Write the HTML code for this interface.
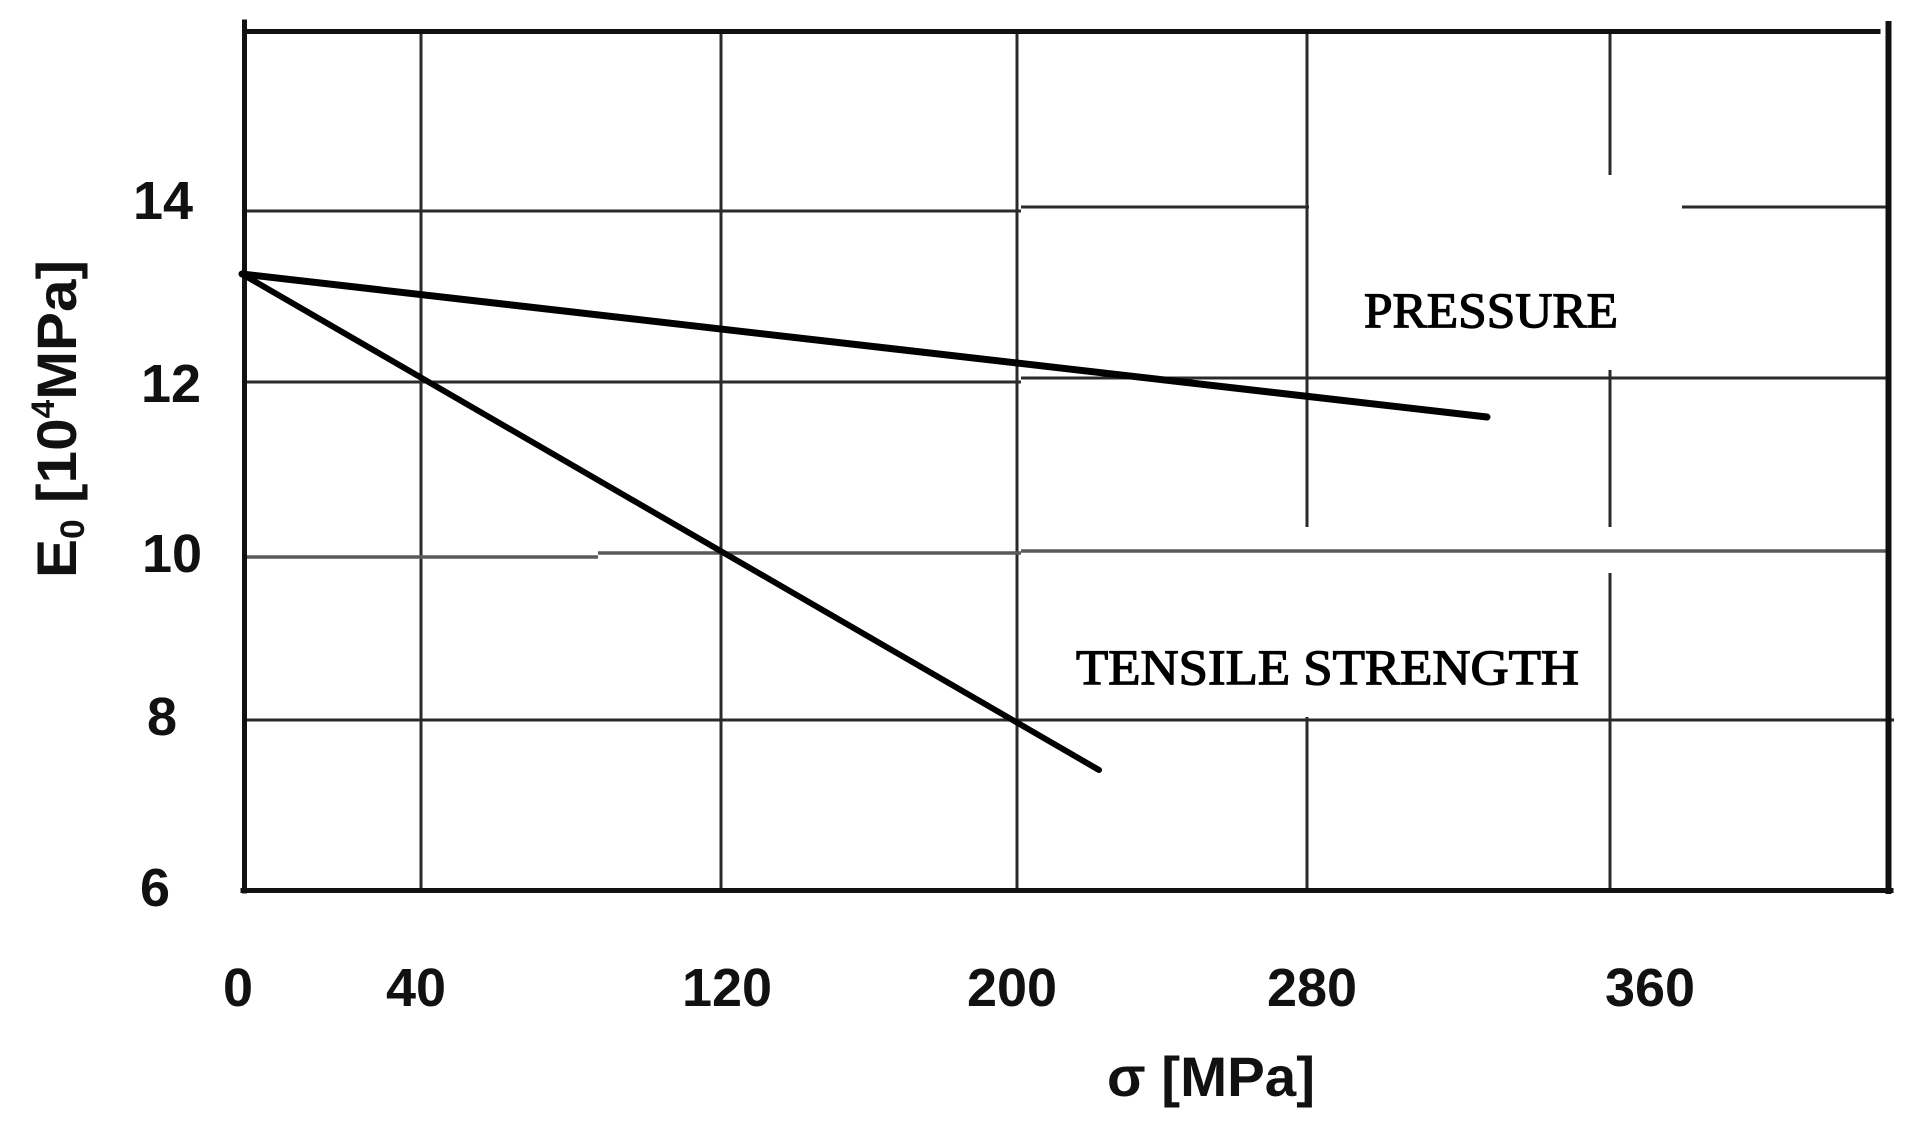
<!DOCTYPE html>
<html>
<head>
<meta charset="utf-8">
<style>
  html, body { margin: 0; padding: 0; background: #ffffff; }
  body { width: 1917px; height: 1122px; overflow: hidden; }
  svg { display: block; }
  .tick { font-family: "Liberation Sans", sans-serif; font-weight: bold; font-size: 54px; fill: #111; }
  .axl { font-family: "Liberation Sans", sans-serif; font-weight: bold; font-size: 56px; fill: #111; }
  .ann { font-family: "Liberation Serif", serif; font-size: 50px; fill: #000; stroke: #000; stroke-width: 1.3px; }
</style>
</head>
<body>
<svg width="1917" height="1122" viewBox="0 0 1917 1122" xmlns="http://www.w3.org/2000/svg">
  <rect x="0" y="0" width="1917" height="1122" fill="#ffffff"/>

  <!-- vertical grid lines -->
  <g stroke="#2a2a2a" stroke-width="3" fill="none">
    <line x1="421" y1="31" x2="421" y2="890"/>
    <line x1="721" y1="31" x2="721" y2="890"/>
    <line x1="1017" y1="31" x2="1017" y2="890"/>
    <line x1="1307" y1="31" x2="1307" y2="527"/>
    <line x1="1307" y1="717" x2="1307" y2="890"/>
    <line x1="1610" y1="31" x2="1610" y2="175"/>
    <line x1="1610" y1="370" x2="1610" y2="527"/>
    <line x1="1610" y1="573" x2="1610" y2="890"/>
  </g>

  <!-- horizontal grid lines -->
  <g stroke="#2a2a2a" stroke-width="3" fill="none">
    <!-- 14 -->
    <line x1="245" y1="211" x2="1021" y2="211"/>
    <line x1="1021" y1="207" x2="1309" y2="207"/>
    <line x1="1682" y1="207" x2="1888" y2="207"/>
    <!-- 12 -->
    <line x1="245" y1="382" x2="1021" y2="382"/>
    <line x1="1021" y1="378" x2="1888" y2="378"/>
    <!-- 8 -->
    <line x1="245" y1="720" x2="1894" y2="720"/>
  </g>
  <!-- 10 (grayer, slightly stepped) -->
  <g stroke="#5a5a5a" stroke-width="3.5" fill="none">
    <line x1="245" y1="557" x2="598" y2="557"/>
    <line x1="598" y1="553" x2="1021" y2="553"/>
    <line x1="1021" y1="551" x2="1676" y2="551"/>
    <line x1="1676" y1="551" x2="1888" y2="551"/>
  </g>

  <!-- axes frame -->
  <g stroke="#111" fill="none" stroke-linecap="square">
    <line x1="244.5" y1="22" x2="244.5" y2="891" stroke-width="5"/>
    <line x1="245" y1="31.5" x2="1878" y2="31.5" stroke-width="5"/>
    <line x1="1888.5" y1="24" x2="1888.5" y2="891" stroke-width="6"/>
    <line x1="243" y1="890.5" x2="1891" y2="890.5" stroke-width="5"/>
  </g>

  <!-- data lines -->
  <g stroke="#000" fill="none" stroke-linecap="round">
    <line x1="242" y1="274" x2="1487" y2="417" stroke-width="7"/>
    <line x1="242" y1="274" x2="1099" y2="770" stroke-width="6"/>
  </g>

  <!-- annotations -->
  <text class="ann" x="1364" y="327" textLength="254" lengthAdjust="spacingAndGlyphs">PRESSURE</text>
  <text class="ann" x="1076" y="684" textLength="503" lengthAdjust="spacingAndGlyphs">TENSILE STRENGTH</text>

  <!-- y tick labels -->
  <text class="tick" x="163" y="219" text-anchor="middle">14</text>
  <text class="tick" x="171" y="402" text-anchor="middle">12</text>
  <text class="tick" x="172" y="572" text-anchor="middle">10</text>
  <text class="tick" x="162" y="735" text-anchor="middle">8</text>
  <text class="tick" x="155" y="906" text-anchor="middle">6</text>

  <!-- x tick labels -->
  <text class="tick" x="238" y="1006" text-anchor="middle">0</text>
  <text class="tick" x="416" y="1006" text-anchor="middle">40</text>
  <text class="tick" x="727" y="1006" text-anchor="middle">120</text>
  <text class="tick" x="1012" y="1006" text-anchor="middle">200</text>
  <text class="tick" x="1312" y="1006" text-anchor="middle">280</text>
  <text class="tick" x="1650" y="1006" text-anchor="middle">360</text>

  <!-- x axis title -->
  <text class="axl" x="1107" y="1096" textLength="208" lengthAdjust="spacingAndGlyphs">σ [MPa]</text>

  <!-- y axis title -->
  <text class="axl" transform="translate(76,578) rotate(-90)" textLength="318" lengthAdjust="spacingAndGlyphs">E<tspan font-size="34" dy="8">0</tspan><tspan dy="-8"> [10</tspan><tspan font-size="32" dy="-22">4</tspan><tspan dy="22">MPa]</tspan></text>
</svg>
</body>
</html>
